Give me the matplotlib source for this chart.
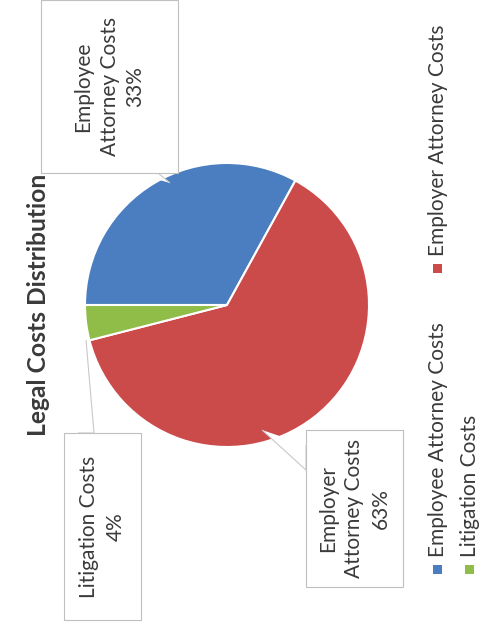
import matplotlib.pyplot as plt
from matplotlib.patches import Rectangle, Polygon

# chart data (the source chart is rotated 90 degrees counter-clockwise)
categories = ["Employee Attorney Costs", "Employer Attorney Costs", "Litigation Costs"]
values = [33, 63, 4]
colors = ["#4a7ec0", "#cb4a4a", "#8fbd47"]
label_lines = ["Employee\nAttorney Costs\n33%", "Employer\nAttorney Costs\n63%", "Litigation Costs\n4%"]
title = "Legal Costs Distribution"

W, H = 483, 630
TXT = "#3a3a3a"
plt.rcParams['font.family'] = ['Lato', 'DejaVu Sans']

fig = plt.figure(figsize=(W / 100, H / 100), dpi=100)
ax = fig.add_axes([0, 0, 1, 1])


def fy(y):
    # image pixel row -> data y
    return H - y


ax.pie(values, colors=colors, startangle=180, counterclock=False,
       center=(227, fy(305)), radius=142,
       wedgeprops=dict(edgecolor="white", linewidth=1.5))
ax.set_xlim(0, W)
ax.set_ylim(0, H)
ax.set_aspect("equal")
ax.axis("off")

# title
ax.text(39, fy(305), title, rotation=90, ha="center", va="center",
        fontsize=17.7, fontweight="bold", color=TXT)

# data label boxes: (x0, y0, x1, y1) in image pixels, plus callout shape
boxes = [(41, 0, 178, 173), (306, 430, 403, 587), (64, 433, 141, 620)]
callouts = [
    [(135, 173), (158, 173), (170, 183)],
    [(306, 445), (306, 470), (262, 430)],
    [(78, 433), (94, 433), (86, 340)],
]
for (x0, y0, x1, y1), lab, cl in zip(boxes, label_lines, callouts):
    ax.add_patch(Polygon([(px, fy(py)) for px, py in cl], closed=False,
                         facecolor="white", edgecolor="#c8c8c8", linewidth=0.8, zorder=3))
    ax.add_patch(Rectangle((x0, fy(y1)), x1 - x0, y1 - y0, facecolor="white",
                           edgecolor="#bfbfbf", linewidth=0.8, zorder=4))
    ax.text((x0 + x1) / 2, fy((y0 + y1) / 2), lab, rotation=90, ha="center", va="center",
            multialignment="center", fontsize=15, color=TXT, linespacing=1.38, zorder=5)

# legend (rotated)
legend_pos = [(437, 569), (437, 268), (469, 569)]
for (lx, ly), name, c in zip(legend_pos, categories, colors):
    ax.add_patch(Rectangle((lx - 4.5, fy(ly) - 4.5), 9, 9, facecolor=c, edgecolor="none"))
    ax.text(lx + 1, fy(ly - 12), name, rotation=90, rotation_mode="anchor",
            ha="left", va="center", fontsize=15, color=TXT)

fig.savefig("out.png", dpi=100, facecolor="white")
